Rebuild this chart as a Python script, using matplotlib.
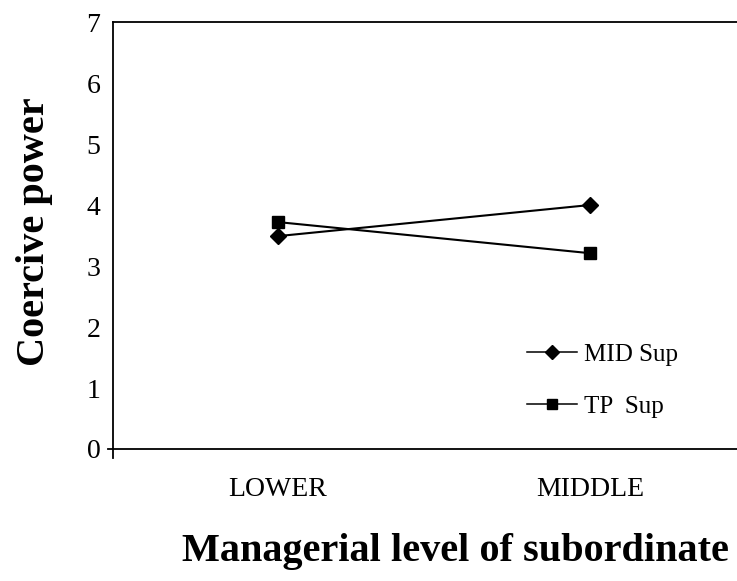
import matplotlib
matplotlib.use("Agg")
import matplotlib.pyplot as plt
from matplotlib.lines import Line2D

# data
levels = ["LOWER", "MIDDLE"]
mid_sup = [3.49, 4.00]
tp_sup = [3.72, 3.21]
y_ticks = [0, 1, 2, 3, 4, 5, 6, 7]

plt.rcParams["font.family"] = ["Liberation Serif", "DejaVu Serif"]

fig = plt.figure(figsize=(7.37, 5.81), dpi=100)
ax = fig.add_axes([0.1533, 0.2272, 0.8467, 0.7349])

x = list(range(len(levels)))
ax.plot(x, mid_sup, color="black", lw=1.5, marker="D", ms=8, label="MID Sup")
ax.plot(x, tp_sup, color="black", lw=1.5, marker="s", ms=8.5, label="TP  Sup")

ax.set_xlim(-0.529, 1.471)
ax.set_ylim(0, 7)
ax.set_yticks(y_ticks)
ax.set_xticks(x)
ax.set_xticklabels(levels)
ax.tick_params(axis="both", length=0, labelsize=20)
ax.tick_params(axis="y", pad=9)
ax.tick_params(axis="x", pad=20)

ax.spines["right"].set_visible(False)
for s in ("left", "top", "bottom"):
    ax.spines[s].set_linewidth(1.3)

# little overhang of the axes at the origin, like the scan
ax.add_line(Line2D([-0.008, 0.0], [0, 0], transform=ax.transAxes, color="black", lw=1.3, clip_on=False))
ax.add_line(Line2D([0, 0], [-0.022, 0.0], transform=ax.transAxes, color="black", lw=1.3, clip_on=False))

ax.set_ylabel("Coercive power", fontsize=29, fontweight="bold", va="center")
ax.yaxis.set_label_coords(-0.125, 0.51)
ax.set_xlabel("Managerial level of subordinate", fontsize=29, fontweight="bold", va="center")
ax.xaxis.set_label_coords(0.549, -0.241)

leg = ax.legend(frameon=False, fontsize=18, loc="upper left",
                bbox_to_anchor=(527 / 737, 1 - 343 / 581), bbox_transform=fig.transFigure,
                borderpad=0, borderaxespad=0, handlelength=2.0, handletextpad=0.3,
                labelspacing=1.2, markerscale=0.85)
for h in leg.legend_handles:
    h.set_linewidth(1.1)

fig.savefig("out.png", dpi=100)
